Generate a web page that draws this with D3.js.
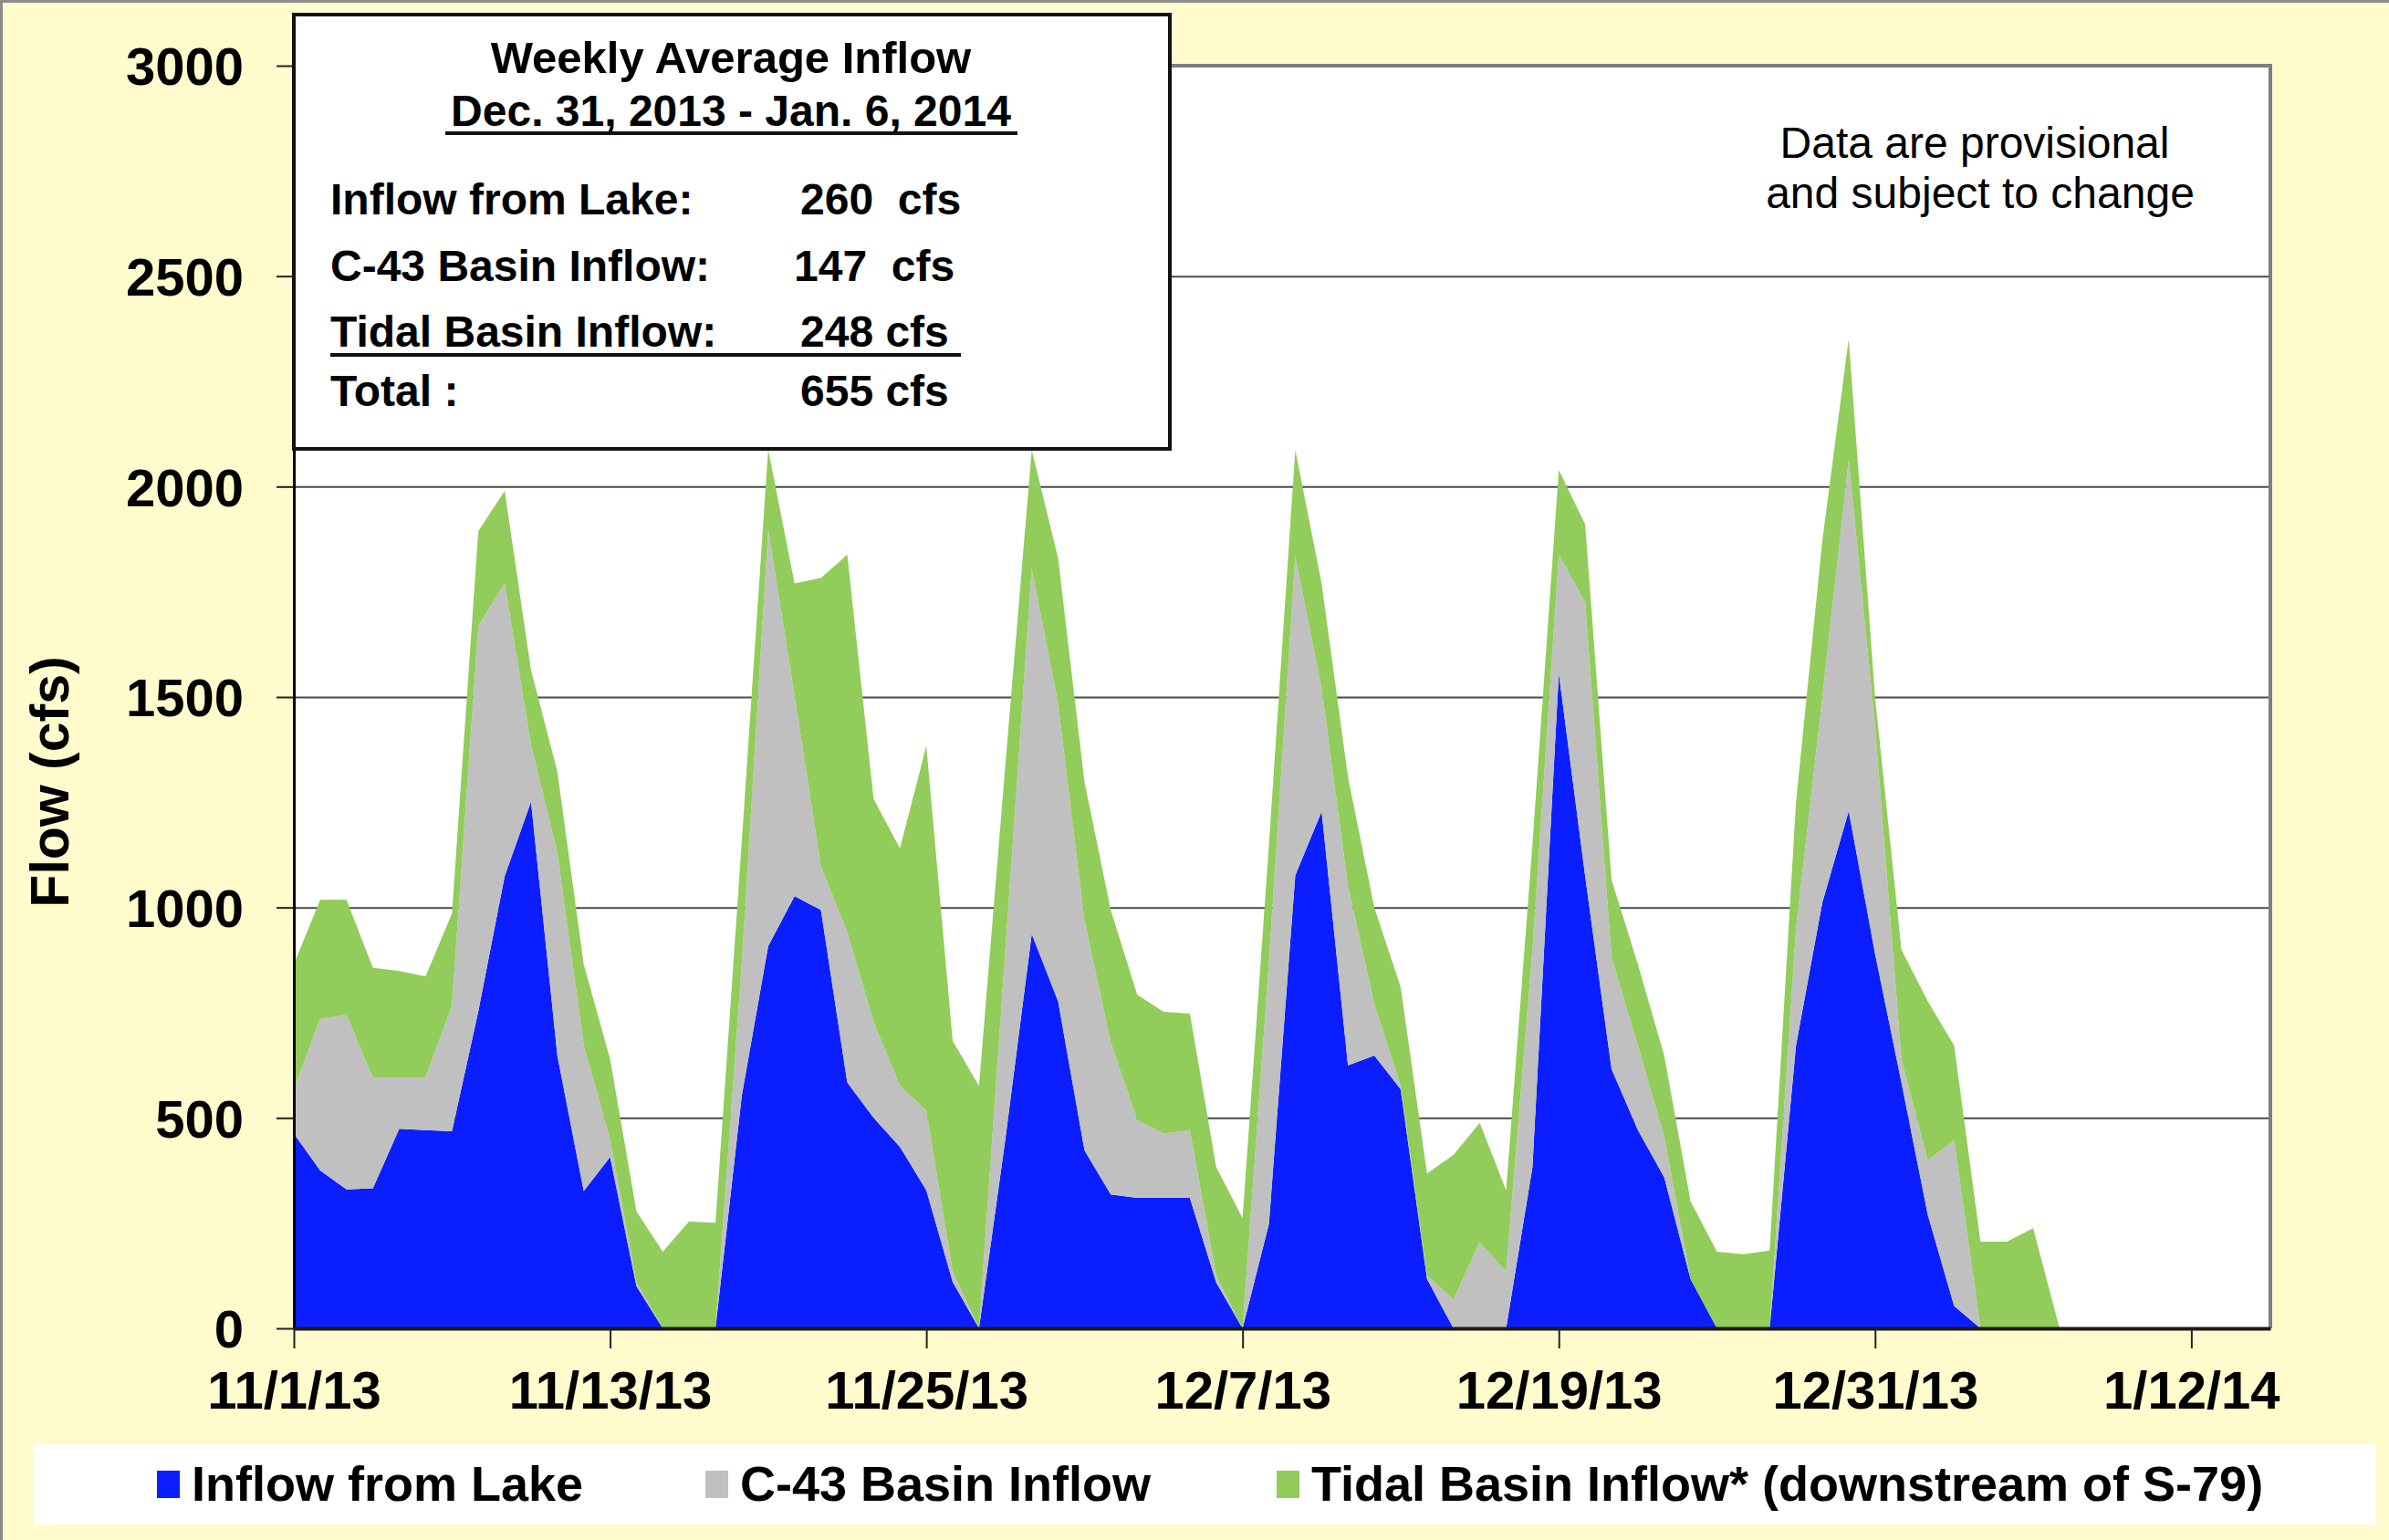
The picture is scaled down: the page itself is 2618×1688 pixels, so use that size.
<!DOCTYPE html>
<html>
<head>
<meta charset="utf-8">
<script src="https://cdn.jsdelivr.net/npm/d3@7"></script>
<style>
body { margin: 0; background: #fffbcc; }
svg text { font-family: "Liberation Sans", Arial, sans-serif; fill: #000; }
</style>
</head>
<body>
<svg class="chart"></svg>
<script>
var WIDTH = 2618;
var HEIGHT = 1688;

var LEFT = 322;
var RIGHT = 2488;
var TOP = 72;
var BOTTOM = 1456;

// daily flows (cfs), 11/1/13 .. 1/7/14
var START = new Date(2013, 10, 1);
var days = d3.timeDay.range(START, new Date(2014, 0, 8));

var lake = [463, 375, 330, 333, 474, 471, 468, 753, 1074, 1251,
            648, 326, 407, 100, 0, 0, 0, 554, 908, 1027,
            994, 584, 500, 431, 328, 110, 0, 450, 937, 777,
            423, 318, 310, 310, 310, 109, 0, 248, 1076, 1228,
            625, 648, 568, 117, 0, 0, 0, 383, 1556, 1074,
            616, 471, 359, 117, 0, 0, 0, 672, 1012, 1229,
            890, 584, 270, 53, 0, 0, 0, 0];

var c43 = [105, 361, 414, 263, 122, 125, 300, 916, 696, 136,
           482, 346, 43, 10, 0, 0, 0, 316, 989, 476,
           104, 358, 228, 145, 190, 25, 0, 450, 868, 707,
           546, 362, 185, 153, 161, 16, 0, 622, 759, 292,
           425, 122, 8, 8, 69, 205, 135, 517, 282, 651,
           265, 201, 96, 0, 0, 0, 0, 278, 488, 835,
           540, 56, 129, 394, 0, 0, 0, 0];

var tidal = [297, 282, 274, 261, 253, 240, 218, 225, 220, 177,
             193, 193, 190, 168, 182, 254, 251, 290, 191, 267,
             685, 896, 530, 564, 866, 548, 576, 440, 282, 346,
             330, 314, 298, 289, 277, 258, 262, 278, 252, 250,
             260, 230, 234, 243, 343, 283, 193, 250, 201, 185,
             185, 193, 193, 185, 182, 176, 185, 300, 372, 287,
             70, 260, 378, 225, 206, 206, 238, 0];

var keys = ["lake", "c43", "tidal"];
var names = ["Inflow from Lake", "C-43 Basin Inflow", "Tidal Basin Inflow* (downstream of S-79)"];
var colors = ["#0a1eff", "#c0c0c0", "#92cc5a"];

var yTicks = [0, 500, 1000, 1500, 2000, 2500, 3000];
var xTicks = [0, 12, 24, 36, 48, 60, 72];

var boxRows = [
    ["Inflow from Lake:", "260  cfs"],
    ["C-43 Basin Inflow:", "147  cfs"],
    ["Tidal Basin Inflow:", "248 cfs"],
    ["Total :", "655 cfs"]
];

var table = days.map(function(d, i) {
    return {date: d, lake: lake[i], c43: c43[i], tidal: tidal[i]};
});

var plot = d3.select(".chart");
plot.attr("width", WIDTH).attr("height", HEIGHT);

// background + outer frame
plot.append("rect")
    .attr("x", 0).attr("y", 0)
    .attr("width", WIDTH).attr("height", HEIGHT)
    .attr("fill", "#fffbcc");
plot.append("rect")
    .attr("x", 1.5).attr("y", 1.5)
    .attr("width", WIDTH + 20).attr("height", HEIGHT + 20)
    .attr("fill", "none")
    .attr("stroke", "#8c8c8c")
    .attr("stroke-width", 3);

var x = d3.scaleTime()
    .domain([START, new Date(2014, 0, 15)])
    .range([LEFT, RIGHT]);

var y = d3.scaleLinear()
    .domain([0, 3000])
    .range([BOTTOM, TOP]);

plot.append("rect")
    .attr("x", LEFT).attr("y", TOP)
    .attr("width", RIGHT - LEFT).attr("height", BOTTOM - TOP)
    .attr("fill", "#ffffff");

// gridlines
var grid = plot.append("g")
    .attr("transform", "translate(" + LEFT + ",0)")
    .call(d3.axisLeft(y).tickValues(yTicks.slice(1)).tickSize(-(RIGHT - LEFT)).tickFormat(""));
grid.select(".domain").remove();
grid.selectAll("line").attr("stroke", "#4a4a4a").attr("stroke-width", 2);

// stacked areas
var layers = d3.stack().keys(keys)(table);

var area = d3.area()
    .x(function(d) { return x(d.data.date); })
    .y0(function(d) { return y(d[0]); })
    .y1(function(d) { return y(d[1]); });

plot.selectAll("path.layer")
    .data(layers)
    .enter()
    .append("path")
    .attr("class", "layer")
    .attr("fill", function(d, i) { return colors[i]; })
    .attr("d", area);

// plot frame (top, right)
plot.append("path")
    .attr("d", "M" + LEFT + "," + TOP + "H" + RIGHT + "V" + BOTTOM)
    .attr("fill", "none")
    .attr("stroke", "#7f7f7f")
    .attr("stroke-width", 4);

// y axis
var yAxis = plot.append("g")
    .attr("transform", "translate(" + LEFT + ",0)")
    .call(d3.axisLeft(y).tickValues(yTicks).tickFormat(d3.format("d"))
        .tickSize(19).tickSizeOuter(0).tickPadding(36));
yAxis.select(".domain").attr("stroke", "#000").attr("stroke-width", 3);
yAxis.selectAll("line").attr("stroke", "#222").attr("stroke-width", 2);
yAxis.selectAll("text")
    .attr("dy", "0.36em")
    .style("font-size", "58px")
    .style("font-weight", "bold");

// x axis
var xAxis = plot.append("g")
    .attr("transform", "translate(0," + BOTTOM + ")")
    .call(d3.axisBottom(x)
        .tickValues(xTicks.map(function(n) { return d3.timeDay.offset(START, n); }))
        .tickFormat(d3.timeFormat("%-m/%-d/%y"))
        .tickSize(22)
        .tickSizeOuter(0)
        .tickPadding(25));
xAxis.select(".domain").attr("stroke", "#1a1a1a").attr("stroke-width", 4);
xAxis.selectAll("line").attr("stroke", "#222").attr("stroke-width", 2);
xAxis.selectAll("text")
    .style("font-size", "58px")
    .style("font-weight", "bold");

plot.append("text")
    .text("Flow (cfs)")
    .attr("transform", "translate(75,857) rotate(-90)")
    .attr("text-anchor", "middle")
    .style("font-size", "59px")
    .style("font-weight", "bold");

// note
plot.append("text")
    .text("Data are provisional")
    .attr("x", 2164).attr("y", 173)
    .attr("text-anchor", "middle")
    .style("font-size", "48px");
plot.append("text")
    .text("and subject to change")
    .attr("x", 2170).attr("y", 228)
    .attr("text-anchor", "middle")
    .style("font-size", "48px");

// weekly average box
plot.append("rect")
    .attr("x", 322).attr("y", 16)
    .attr("width", 960).attr("height", 476)
    .attr("fill", "#ffffff")
    .attr("stroke", "#111")
    .attr("stroke-width", 4);

plot.append("text")
    .text("Weekly Average Inflow")
    .attr("x", 801).attr("y", 80)
    .attr("text-anchor", "middle")
    .style("font-size", "49px")
    .style("font-weight", "bold");
plot.append("text")
    .text("Dec. 31, 2013 - Jan. 6, 2014")
    .attr("x", 801).attr("y", 138)
    .attr("text-anchor", "middle")
    .style("font-size", "48px")
    .style("font-weight", "bold");
plot.append("line")
    .attr("x1", 488).attr("x2", 1115)
    .attr("y1", 146).attr("y2", 146)
    .attr("stroke", "#111").attr("stroke-width", 4);

var rowY = [235, 308, 380, 445];
var rows = plot.selectAll("g.row")
    .data(boxRows)
    .enter()
    .append("g")
    .attr("class", "row");
rows.append("text")
    .text(function(d) { return d[0]; })
    .attr("x", 362)
    .attr("y", function(d, i) { return rowY[i]; })
    .style("font-size", "48px")
    .style("font-weight", "bold");
rows.append("text")
    .text(function(d) { return d[1]; })
    .attr("x", function(d, i) { return i == 1 ? 870 : 877; })
    .attr("y", function(d, i) { return rowY[i]; })
    .style("white-space", "pre")
    .style("font-size", "48px")
    .style("font-weight", "bold");
plot.append("line")
    .attr("x1", 362).attr("x2", 1053)
    .attr("y1", 389).attr("y2", 389)
    .attr("stroke", "#111").attr("stroke-width", 4);

// legend
plot.append("rect")
    .attr("x", 37).attr("y", 1583)
    .attr("width", 2567).attr("height", 88)
    .attr("fill", "#ffffff");

var legendX = [172, 773, 1399];
var legend = plot.selectAll("g.legend")
    .data(names)
    .enter()
    .append("g")
    .attr("class", "legend")
    .attr("transform", function(d, i) { return "translate(" + legendX[i] + ",0)"; });
legend.append("rect")
    .attr("x", 0).attr("y", 1612)
    .attr("width", 25).attr("height", 30)
    .attr("fill", function(d, i) { return colors[i]; });
legend.append("text")
    .text(function(d) { return d; })
    .attr("x", 38).attr("y", 1645)
    .style("font-size", "54px")
    .style("font-weight", "bold");
</script>
</body>
</html>
